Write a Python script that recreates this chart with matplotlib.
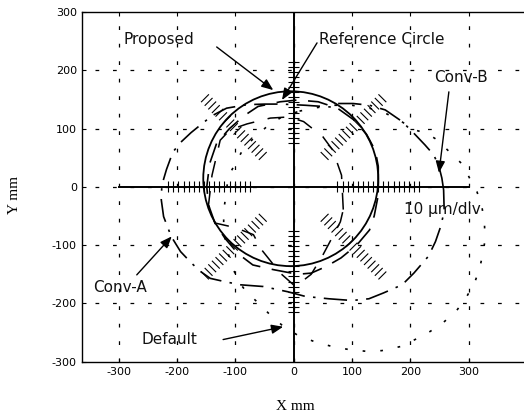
import numpy as np
import matplotlib
matplotlib.use('Agg')
import matplotlib.pyplot as plt
from matplotlib.collections import LineCollection

plt.rcParams['axes.unicode_minus'] = False
plt.rcParams['font.family'] = ['DejaVu Sans']

# ---------------- data ----------------
xticks = [-300, -200, -100, 0, 100, 200, 300]
yticks = [-300, -200, -100, 0, 100, 200, 300]

ref_center = (-5, 14)
ref_radius = 150

proposed_x = [145, 145, 138, 130, 108, 81, 55, 30, 7, -35, -70, -95, -118, -135, -146, -149,
              -144, -132, -110, -85, -61, -23, 7, 42, 75, 103, 125, 140]
proposed_y = [35, -14, -50, -74, -100, -122, -137, -148, -150, -142, -134, -115, -88, -62, -31, 0,
              40, 75, 100, 122, 138, 146, 149, 146, 135, 115, 90, 62]

conva_x = [257, 254, 249, 240, 225, 206, 186, 157, 130, 102, 74, 64, 20, -20, -50, -80, -115, -140,
           -160, -176, -192, -207, -218, -226, -227, -223, -210, -194, -175, -160, -143, -121, -92,
           -52, -10, 20, 60, 100, 129, 154, 186, 206, 231, 243, 252, 258]
conva_y = [-5, 15, 35, 55, 72, 92, 112, 132, 140, 143, 143, 137, 140, 142, 142, 141, 135, 122,
           106, 93, 78, 60, 30, 3, -22, -51, -85, -111, -131, -145, -157, -162, -168,
           -171, -180, -188, -192, -195, -192, -182, -168, -148, -119, -94, -68, -42]

convb_x = [85, 82, 67, 50, 17, -8, -40, -80, -109, -126, -140, -146, -135, -100, -69, -55, -23, 3,
           30, 50, 67, 80]
convb_y = [-39, 20, 63, 86, 112, 120, 118, 108, 98, 80, 20, -31, -62, -70, -82, -108, -148, -171,
           -150, -117, -85, -60]

default_x = [10, 40, 70, 100, 130, 160, 185, 206, 228, 247, 267, 290, 303, 314, 322, 327, 328, 325,
             319, 310, 295, 278, 255, 234, 208, 183, 151, 123, 94, 66, 34, 6, -17, -41, -61, -81,
             -95, -108, -116, -120, -120, -116, -112, -100, -86, -66, -43, -20]
default_y = [130, 136, 140, 140, 135, 125, 112, 98, 92, 80, 60, 38, 12, -8, -30, -62, -91, -111,
             -139, -165, -191, -214, -234, -248, -262, -274, -281, -282, -279, -274, -265, -254,
             -240, -219, -199, -180, -162, -130, -100, -71, -42, -12, 18, 40, 66, 86, 106, 120]

scale_dirs_deg = [0, 45, 90, 135, 180, 225, 270, 315]
scale_r_start, scale_r_end, scale_n = 75, 215, 17

labels = ['Proposed', 'Reference Circle', 'Conv-B', 'Conv-A', 'Default', '10 \u00b5m/div']
label_pos = [(-292, 252), (43, 252), (240, 187), (-343, -173), (-261, -262), (189, -38)]
arrows = [((-132, 240), (-35, 166)), ((40, 247), (-20, 149)), ((266, 163), (249, 24)),
          ((-269, -151), (-209, -85)), ((-121, -262), (-18, -240))]

# ---------------- figure ----------------
fig = plt.figure(figsize=(5.24, 4.17), dpi=100)
ax = fig.add_axes([0.1559, 0.1326, 0.8441, 0.8386])
ax.set_xlim(-363.4, 394.8)
ax.set_ylim(-300, 300)

# dashed grid
gstyle = dict(color='k', lw=0.9, ls=(0, (3, 11)), zorder=1)
for gx in xticks:
    ax.plot([gx, gx], [-300, 300], **gstyle)
for gy in yticks[1:-1]:
    ax.plot([-400, 400], [gy, gy], **gstyle)

# solid axes lines
ax.plot([-300, 300], [0, 0], color='k', lw=1.4, zorder=2)
ax.plot([0, 0], [-300, 300], color='k', lw=1.4, zorder=2)

# radial scale hatches
radii = np.linspace(scale_r_start, scale_r_end, scale_n)
segs = []
h = 9.5
for d in scale_dirs_deg:
    t = np.deg2rad(d)
    ux, uy = np.cos(t), np.sin(t)
    px_, py_ = -uy, ux
    for r in radii:
        cx, cy = r * ux, r * uy
        segs.append([(cx - h * px_, cy - h * py_), (cx + h * px_, cy + h * py_)])
ax.add_collection(LineCollection(segs, colors='k', linewidths=0.8, zorder=2))

# reference circle
circ = plt.Circle(ref_center, ref_radius, fill=False, color='k', lw=1.3, zorder=3)
ax.add_patch(circ)

def closed(xs, ys):
    return list(xs) + [xs[0]], list(ys) + [ys[0]]

x, y = closed(proposed_x, proposed_y)
ax.plot(x, y, color='k', lw=1.2, ls=(0, (12, 7)), zorder=3)
x, y = closed(conva_x, conva_y)
ax.plot(x, y, color='k', lw=1.2, ls=(0, (14, 5, 1.5, 5)), zorder=3)
x, y = closed(convb_x, convb_y)
ax.plot(x, y, color='k', lw=1.1, ls=(0, (11, 9)), zorder=3)
x, y = closed(default_x, default_y)
ax.plot(x, y, color='k', lw=1.2, ls=(0, (1.6, 9)), zorder=3)

# labels and arrows
for s, (tx, ty) in zip(labels, label_pos):
    ax.text(tx, ty, s, fontsize=11, ha='left', va='center', color='#111111', zorder=5)
for (s0, s1) in arrows:
    ax.annotate('', xy=s1, xytext=s0,
                arrowprops=dict(arrowstyle='-|>,head_length=0.7,head_width=0.28', color='k',
                                lw=1.0, shrinkA=0, shrinkB=0, mutation_scale=10), zorder=5)

# axes styling
ax.set_xticks(xticks)
ax.set_yticks(yticks)
ax.set_xticklabels([str(v) for v in xticks])
ax.set_yticklabels([str(v) for v in yticks])
ax.tick_params(direction='in', length=3, width=0.8, top=True, right=False,
               labelsize=8, pad=4)
ax.tick_params(axis='y', pad=3.5)
ax.spines['right'].set_visible(False)
for sp in ['left', 'bottom', 'top']:
    ax.spines[sp].set_linewidth(1.0)

fig.text(295 / 524, 1 - 406 / 417, 'X mm', fontsize=11, family='Liberation Serif',
         ha='center', va='center')
fig.text(14 / 524, 1 - 195 / 417, 'Y mm', fontsize=11, family='Liberation Serif',
         ha='center', va='center', rotation=90)

fig.savefig('out.png', dpi=100)
